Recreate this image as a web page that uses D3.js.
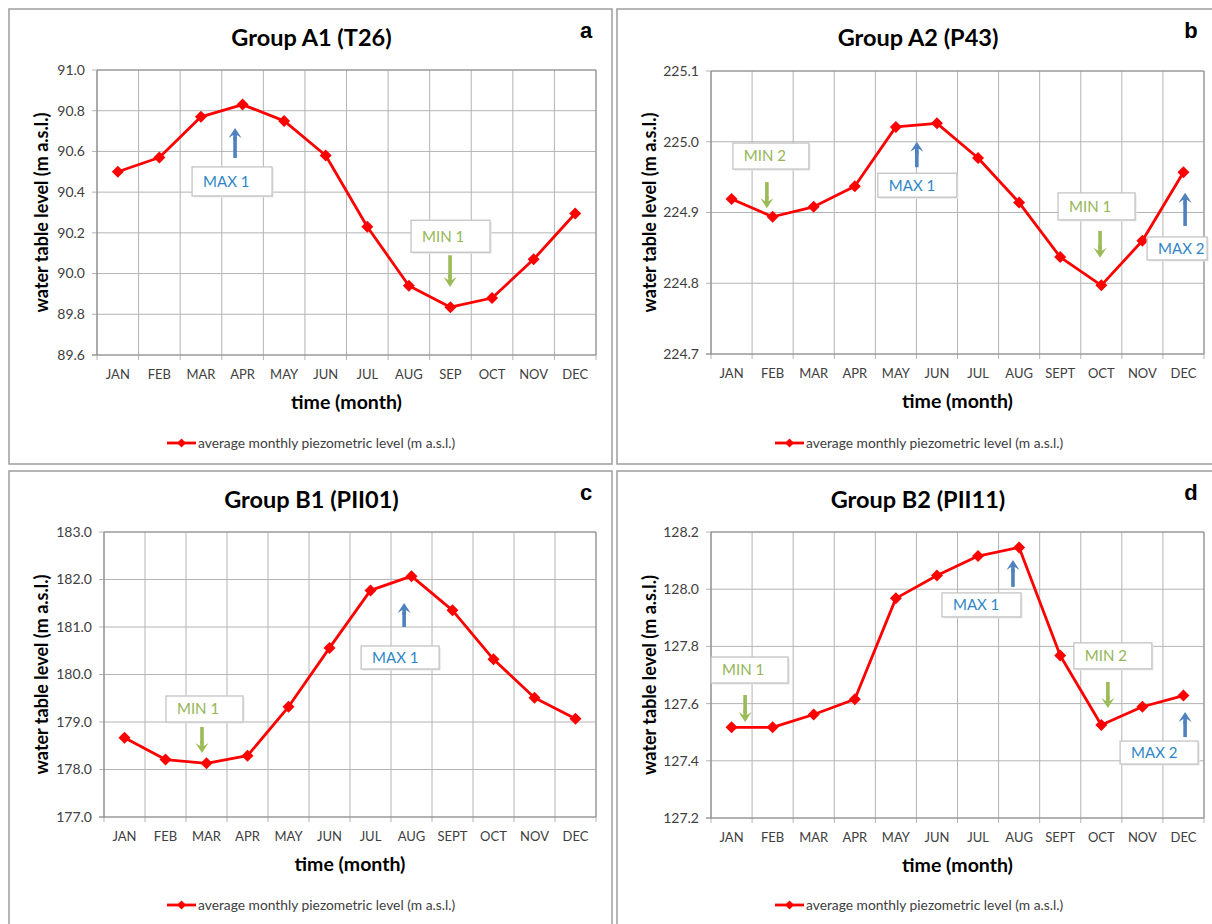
<!DOCTYPE html>
<html>
<head>
<meta charset="utf-8">
<script src="https://cdn.jsdelivr.net/npm/d3@7"></script>
<style>
  body { margin: 0; background: #fff; }
  text { font-family: Lato, "Open Sans", sans-serif; }
</style>
</head>
<body>
<svg id="chart" width="1212" height="924"></svg>
<script>
var months = ['JAN', 'FEB', 'MAR', 'APR', 'MAY', 'JUN', 'JUL', 'AUG', 'SEP', 'OCT', 'NOV', 'DEC'];
var monthsSept = ['JAN', 'FEB', 'MAR', 'APR', 'MAY', 'JUN', 'JUL', 'AUG', 'SEPT', 'OCT', 'NOV', 'DEC'];

var levelA1 = [90.50, 90.57, 90.77, 90.83, 90.75, 90.58, 90.23, 89.94, 89.835, 89.88, 90.07, 90.295];
var levelA2 = [224.919, 224.894, 224.908, 224.937, 225.021, 225.026, 224.977, 224.914, 224.837, 224.797, 224.860, 224.957];
var levelB1 = [178.67, 178.21, 178.13, 178.29, 179.32, 180.56, 181.77, 182.07, 181.35, 180.32, 179.51, 179.07];
var levelB2 = [127.517, 127.517, 127.562, 127.615, 127.968, 128.048, 128.116, 128.146, 127.768, 127.525, 127.589, 127.628];

var ticksA1 = [89.6, 89.8, 90.0, 90.2, 90.4, 90.6, 90.8, 91.0];
var ticksA2 = [224.7, 224.8, 224.9, 225.0, 225.1];
var ticksB1 = [177, 178, 179, 180, 181, 182, 183];
var ticksB2 = [127.2, 127.4, 127.6, 127.8, 128.0, 128.2];

// annotation arrows: u = position in month units, tail/tip in metres
var notesA1 = [
    { label: 'MAX 1', u: 3.32, tail: 90.568, tip: 90.715 },
    { label: 'MIN 1', u: 8.49, tail: 90.09, tip: 89.934 }
];
var notesA2 = [
    { label: 'MIN 2', u: 1.36, tail: 224.943, tip: 224.906 },
    { label: 'MAX 1', u: 5.01, tail: 224.964, tip: 225.000 },
    { label: 'MIN 1', u: 9.47, tail: 224.874, tip: 224.836 },
    { label: 'MAX 2', u: 11.54, tail: 224.881, tip: 224.928 }
];
var notesB1 = [
    { label: 'MIN 1', u: 2.39, tail: 178.895, tip: 178.35 },
    { label: 'MAX 1', u: 7.32, tail: 181.0, tip: 181.505 }
];
var notesB2 = [
    { label: 'MIN 1', u: 0.83, tail: 127.63, tip: 127.536 },
    { label: 'MAX 1', u: 7.35, tail: 128.008, tip: 128.102 },
    { label: 'MIN 2', u: 9.66, tail: 127.676, tip: 127.585 },
    { label: 'MAX 2', u: 11.54, tail: 127.483, tip: 127.571 }
];

// label boxes, in pixels relative to the arrow tail
var boxesA1 = [{ dx: -43, gap: 9, w: 80, h: 29 }, { dx: -39, gap: 3, w: 79, h: 32 }];
var boxesA2 = [{ dx: -34, gap: 13, w: 76, h: 26 }, { dx: -39, gap: 6, w: 79, h: 24 },
               { dx: -42, gap: 11, w: 77, h: 27 }, { dx: -38, gap: 11, w: 60, h: 23 }];
var boxesB1 = [{ dx: -36, gap: 5, w: 77, h: 26 }, { dx: -43, gap: 19, w: 78, h: 23 }];
var boxesB2 = [{ dx: -34, gap: 12, w: 77, h: 26 }, { dx: -71, gap: 6, w: 79, h: 24 },
               { dx: -34, gap: 13, w: 78, h: 26 }, { dx: -65, gap: 4, w: 78, h: 23 }];

var panels = [
    { x: 9, y: 9, w: 603, h: 455, title: 'Group A1 (T26)', letter: 'a', cats: months, values: levelA1,
      ticks: ticksA1, notes: notesA1, boxes: boxesA1, plot: [97, 70, 596, 355] },
    { x: 617, y: 9, w: 600, h: 455, title: 'Group A2 (P43)', letter: 'b', cats: monthsSept, values: levelA2,
      ticks: ticksA2, notes: notesA2, boxes: boxesA2, plot: [711, 71, 1204, 354] },
    { x: 9, y: 471, w: 603, h: 460, title: 'Group B1 (PII01)', letter: 'c', cats: monthsSept, values: levelB1,
      ticks: ticksB1, notes: notesB1, boxes: boxesB1, plot: [104, 532, 596, 817] },
    { x: 617, y: 471, w: 600, h: 460, title: 'Group B2 (PII11)', letter: 'd', cats: monthsSept, values: levelB2,
      ticks: ticksB2, notes: notesB2, boxes: boxesB2, plot: [711, 532, 1204, 818] }
];

var svg = d3.select('#chart');
var gridColor = '#b4b4b4';
var axisColor = '#8c8c8c';
var maxArrow = '#4f81bd', minArrow = '#9bbb59';
var maxText = '#2f86c6', minText = '#94b656';

panels.forEach(drawPanel);

function drawPanel(p) {
    var g = svg.append('g');
    var left = p.plot[0], top = p.plot[1], right = p.plot[2], bottom = p.plot[3];

    g.append('rect')
        .attr('x', p.x).attr('y', p.y)
        .attr('width', p.w).attr('height', p.h)
        .attr('fill', '#fff')
        .attr('stroke', '#a3a3a3')
        .attr('stroke-width', 1.6);

    var x = d3.scaleBand().domain(p.cats).range([left, right]).padding(0);
    var xu = d3.scaleLinear().domain([0, p.cats.length]).range([left, right]);
    var y = d3.scaleLinear().domain(d3.extent(p.ticks)).range([bottom, top]);

    // horizontal grid
    g.selectAll('.hgrid')
        .data(p.ticks)
        .join('line')
        .attr('x1', left - 5).attr('x2', right)
        .attr('y1', d => y(d)).attr('y2', d => y(d))
        .attr('stroke', gridColor).attr('stroke-width', 1);

    // vertical grid at band edges
    var edges = d3.range(p.cats.length + 1);
    g.selectAll('.vgrid')
        .data(edges)
        .join('line')
        .attr('x1', d => xu(d)).attr('x2', d => xu(d))
        .attr('y1', top).attr('y2', bottom + 5)
        .attr('stroke', gridColor).attr('stroke-width', 1);

    // axes lines
    g.append('line')
        .attr('x1', left).attr('x2', left).attr('y1', top).attr('y2', bottom)
        .attr('stroke', axisColor).attr('stroke-width', 1.2);
    g.append('line')
        .attr('x1', left - 5).attr('x2', right).attr('y1', bottom).attr('y2', bottom)
        .attr('stroke', axisColor).attr('stroke-width', 1.2);
    g.append('line')
        .attr('x1', left).attr('x2', right).attr('y1', top).attr('y2', top)
        .attr('stroke', axisColor).attr('stroke-width', 1);
    g.append('line')
        .attr('x1', right).attr('x2', right).attr('y1', top).attr('y2', bottom)
        .attr('stroke', axisColor).attr('stroke-width', 1);

    // tick labels
    g.selectAll('.ylab')
        .data(p.ticks)
        .join('text')
        .attr('x', left - 12)
        .attr('y', d => y(d))
        .attr('dy', '0.35em')
        .attr('text-anchor', 'end')
        .attr('font-size', 14)
        .attr('fill', '#404040')
        .text(d => d3.format('.1f')(d));

    g.selectAll('.xlab')
        .data(p.cats)
        .join('text')
        .attr('x', d => x(d) + x.bandwidth() / 2)
        .attr('y', bottom + 24)
        .attr('text-anchor', 'middle')
        .attr('font-size', 13)
        .attr('fill', '#404040')
        .text(d => d);

    // titles
    g.append('text')
        .attr('x', p.x + p.w / 2 + 1)
        .attr('y', p.y + 37)
        .attr('text-anchor', 'middle')
        .attr('font-size', 23.5)
        .attr('font-weight', 'bold')
        .attr('fill', '#000')
        .text(p.title);

    g.append('text')
        .attr('x', p.x + p.w - 26)
        .attr('y', p.y + 29)
        .attr('text-anchor', 'middle')
        .attr('font-size', 22)
        .attr('font-weight', 'bold')
        .style('font-family', '"Liberation Sans", Arial, sans-serif')
        .attr('fill', '#000')
        .text(p.letter);

    g.append('text')
        .attr('x', (left + right) / 2)
        .attr('y', bottom + 54)
        .attr('text-anchor', 'middle')
        .attr('font-size', 19.5)
        .attr('font-weight', 'bold')
        .attr('fill', '#000')
        .text('time (month)');

    var ty = (top + bottom) / 2;
    g.append('text')
        .attr('transform', 'translate(' + (p.x + 39) + ',' + ty + ') rotate(-90)')
        .attr('text-anchor', 'middle')
        .attr('font-size', 18)
        .attr('font-weight', 'bold')
        .attr('fill', '#000')
        .text('water table level (m a.s.l.)');

    // series line
    var line = d3.line()
        .x((d, i) => x(p.cats[i]) + x.bandwidth() / 2)
        .y(d => y(d));

    g.append('path')
        .datum(p.values)
        .attr('d', line)
        .attr('fill', 'none')
        .attr('stroke', '#ff0000')
        .attr('stroke-width', 2.8)
        .attr('stroke-linejoin', 'round');

    var diamond = d3.symbol().type(d3.symbolSquare).size(72);
    g.selectAll('.marker')
        .data(p.values)
        .join('path')
        .attr('d', diamond)
        .attr('transform', (d, i) => 'translate(' + (x(p.cats[i]) + x.bandwidth() / 2) + ',' + y(d) + ') rotate(45)')
        .attr('fill', '#ff0000');

    // annotations
    p.notes.forEach(function(n, i) {
        var box = p.boxes[i];
        var isMax = n.label.indexOf('MAX') === 0;
        var ax = xu(n.u);
        var y0 = y(n.tail), y1 = y(n.tip);
        var col = isMax ? maxArrow : minArrow;
        var dir = y1 < y0 ? -1 : 1;
        var headLen = 12, headW = 6.5;

        g.append('line')
            .attr('x1', ax).attr('x2', ax)
            .attr('y1', y0).attr('y2', y1 - dir * (headLen - 3))
            .attr('stroke', col).attr('stroke-width', 3.6);
        g.append('path')
            .attr('d', 'M' + (ax - headW) + ',' + (y1 - dir * (headLen - 2)) +
                'L' + ax + ',' + y1 +
                'L' + (ax + headW) + ',' + (y1 - dir * (headLen - 2)) +
                'L' + (ax + 1.8) + ',' + (y1 - dir * (headLen - 5)) +
                'L' + (ax + 1.8) + ',' + (y1 - dir * headLen) +
                'L' + (ax - 1.8) + ',' + (y1 - dir * headLen) +
                'L' + (ax - 1.8) + ',' + (y1 - dir * (headLen - 5)) + 'Z')
            .attr('fill', col);

        var by = dir < 0 ? y0 + box.gap : y0 - box.gap - box.h;
        var bx = ax + box.dx;
        g.append('rect')
            .attr('x', bx + 1.5).attr('y', by + 1.5)
            .attr('width', box.w).attr('height', box.h)
            .attr('fill', '#e6e6e6');
        g.append('rect')
            .attr('x', bx).attr('y', by)
            .attr('width', box.w).attr('height', box.h)
            .attr('fill', '#fff')
            .attr('stroke', '#c4c4c4')
            .attr('stroke-width', 1.3);
        g.append('text')
            .attr('x', bx + 11)
            .attr('y', by + box.h / 2)
            .attr('dy', '0.36em')
            .attr('font-size', 15)
            .attr('fill', isMax ? maxText : minText)
            .text(n.label);
    });

    // legend
    var ly = p.y + 434;
    var lx0 = p.x + 158, lx1 = p.x + 187;
    g.append('line')
        .attr('x1', lx0).attr('x2', lx1).attr('y1', ly).attr('y2', ly)
        .attr('stroke', '#ff0000').attr('stroke-width', 2.8);
    g.append('path')
        .attr('d', d3.symbol().type(d3.symbolSquare).size(40))
        .attr('transform', 'translate(' + ((lx0 + lx1) / 2) + ',' + ly + ') rotate(45)')
        .attr('fill', '#ff0000');
    g.append('text')
        .attr('x', lx1 + 2)
        .attr('y', ly)
        .attr('dy', '0.35em')
        .attr('font-size', 13.8)
        .attr('fill', '#404040')
        .text('average monthly piezometric level (m a.s.l.)');
}
</script>
</body>
</html>
